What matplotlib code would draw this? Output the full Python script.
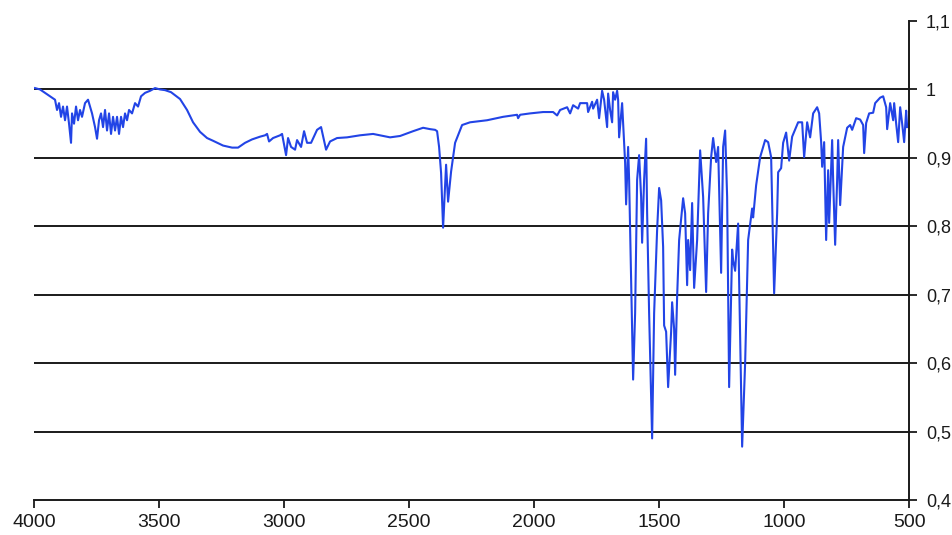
# IR spectrum, transmittance vs wavenumber
import matplotlib
matplotlib.use('Agg')
import matplotlib.pyplot as plt

wavenumber = [
    3996, 3976, 3956, 3936, 3916, 3908, 3900, 3892, 3884, 3876, 3868, 3860,
    3852, 3848, 3840, 3832, 3824, 3816, 3808, 3796, 3784, 3776, 3768, 3756,
    3748, 3740, 3732, 3724, 3716, 3708, 3700, 3692, 3684, 3676, 3668, 3660,
    3652, 3644, 3636, 3628, 3620, 3608, 3596, 3584, 3572, 3556, 3536, 3516,
    3496, 3476, 3452, 3416,
    3388, 3364, 3336, 3308, 3284, 3244, 3208, 3184, 3156, 3128, 3096, 3076,
    3068, 3060, 3044, 3016, 3008, 2992, 2984, 2972, 2956, 2948, 2932, 2920,
    2908, 2892, 2868, 2852, 2832, 2816, 2788, 2748, 2696, 2644, 2604, 2576,
    2536, 2484, 2444, 2416, 2396, 2388, 2380, 2372, 2364, 2352, 2344, 2332,
    2316, 2288, 2256, 2188, 2124, 2068, 2064, 2056, 2016, 1964, 1924, 1908,
    1896, 1868, 1856, 1844, 1824, 1816, 1788, 1784, 1768, 1764, 1748, 1740,
    1728, 1720, 1708, 1704, 1696, 1688, 1684, 1676, 1668, 1664, 1660, 1648,
    1644, 1636, 1632, 1624, 1620, 1612, 1604, 1596, 1588, 1580, 1572, 1568,
    1560, 1552, 1548, 1540, 1528, 1520, 1508, 1500, 1492, 1484, 1480, 1472,
    1464, 1452, 1448, 1440, 1436, 1428, 1420, 1404, 1396, 1388, 1384, 1376,
    1368, 1360, 1348, 1336, 1324, 1312, 1304, 1292, 1284, 1272, 1264, 1252,
    1244, 1236, 1228, 1220, 1208, 1204, 1196, 1184, 1180, 1168, 1156, 1144,
    1128, 1124, 1112, 1096, 1076, 1064, 1052, 1044, 1040, 1028, 1024, 1012,
    1004, 992, 980, 968, 944, 928, 920, 908, 896, 884, 868, 860,
    852, 848, 840, 832, 824, 820, 808, 804, 796, 788, 784, 776,
    764, 748, 736, 728, 712, 696, 684, 680, 672, 660, 644, 636,
    616, 604, 592, 588, 576, 564, 560, 552, 544, 536, 528, 520,
    512, 508,
]

transmittance = [
    1.002, 1.000, 0.995, 0.990, 0.985, 0.970, 0.980, 0.960, 0.975, 0.955, 0.975, 0.950,
    0.922, 0.965, 0.950, 0.975, 0.955, 0.970, 0.960, 0.980, 0.985, 0.975, 0.965, 0.945,
    0.928, 0.955, 0.965, 0.945, 0.970, 0.940, 0.965, 0.935, 0.960, 0.940, 0.960, 0.935,
    0.960, 0.945, 0.965, 0.955, 0.970, 0.965, 0.980, 0.975, 0.990, 0.995, 0.998, 1.002,
    1.000, 0.999, 0.996, 0.986,
    0.970, 0.952, 0.938, 0.929, 0.925, 0.918, 0.915, 0.915, 0.922, 0.927, 0.931, 0.933,
    0.935, 0.924, 0.929, 0.933, 0.935, 0.904, 0.929, 0.916, 0.912, 0.926, 0.916, 0.939,
    0.922, 0.922, 0.941, 0.945, 0.912, 0.924, 0.929, 0.930, 0.933, 0.935, 0.932, 0.930,
    0.932, 0.939, 0.944, 0.942, 0.941, 0.939, 0.916, 0.878, 0.798, 0.890, 0.836, 0.880,
    0.922, 0.948, 0.952, 0.955, 0.960, 0.963, 0.958, 0.963, 0.965, 0.967, 0.967, 0.962,
    0.970, 0.974, 0.965, 0.977, 0.972, 0.980, 0.980, 0.967, 0.982, 0.972, 0.985, 0.958,
    0.998, 0.985, 0.945, 0.994, 0.970, 0.952, 0.996, 0.985, 0.998, 0.985, 0.930, 0.980,
    0.950, 0.893, 0.832, 0.916, 0.868, 0.722, 0.576, 0.673, 0.868, 0.904, 0.843, 0.776,
    0.868, 0.928, 0.820, 0.673, 0.490, 0.673, 0.795, 0.856, 0.838, 0.770, 0.655, 0.646,
    0.565, 0.646, 0.689, 0.650, 0.583, 0.697, 0.780, 0.841, 0.819, 0.714, 0.780, 0.736,
    0.834, 0.710, 0.780, 0.911, 0.843, 0.704, 0.819, 0.901, 0.929, 0.894, 0.916, 0.732,
    0.916, 0.940, 0.843, 0.565, 0.766, 0.750, 0.735, 0.804, 0.720, 0.478, 0.600, 0.780,
    0.826, 0.813, 0.860, 0.901, 0.926, 0.923, 0.901, 0.770, 0.702, 0.819, 0.879, 0.885,
    0.922, 0.937, 0.896, 0.931, 0.952, 0.952, 0.901, 0.952, 0.930, 0.965, 0.974, 0.965,
    0.923, 0.887, 0.923, 0.780, 0.882, 0.805, 0.926, 0.868, 0.773, 0.868, 0.926, 0.831,
    0.916, 0.944, 0.948, 0.941, 0.958, 0.956, 0.948, 0.907, 0.951, 0.965, 0.966, 0.980,
    0.988, 0.990, 0.974, 0.942, 0.980, 0.955, 0.980, 0.950, 0.923, 0.974, 0.950, 0.923,
    0.969, 0.945,
]

x_ticks = [4000, 3500, 3000, 2500, 2000, 1500, 1000, 500]
y_ticks = [0.4, 0.5, 0.6, 0.7, 0.8, 0.9, 1.0, 1.1]
y_tick_labels = ['0,4', '0,5', '0,6', '0,7', '0,8', '0,9', '1', '1,1']
grid_levels = [0.5, 0.6, 0.7, 0.8, 0.9, 1.0]

fig = plt.figure(figsize=(9.53, 5.35), dpi=100)
ax = fig.add_axes([0.0357, 0.0654, 0.9183, 0.8953])

for level in grid_levels:
    ax.axhline(level, color='#1a1a1a', linewidth=1.4, zorder=1)

ax.plot(wavenumber, transmittance, color='#2244e6', linewidth=1.5, zorder=2)

ax.set_xlim(4000, 500)
ax.set_ylim(0.4, 1.1)

ax.spines['top'].set_visible(False)
ax.spines['left'].set_visible(False)
ax.spines['right'].set_color('#1a1a1a')
ax.spines['bottom'].set_color('#1a1a1a')
ax.spines['right'].set_linewidth(1.4)
ax.spines['bottom'].set_linewidth(1.4)

ax.yaxis.tick_right()
ax.set_yticks(y_ticks)
ax.set_yticklabels(y_tick_labels)
ax.set_xticks(x_ticks)
ax.set_xticklabels([str(v) for v in x_ticks])

tick_font = ['Liberation Sans Narrow', 'Liberation Sans', 'DejaVu Sans']
ax.tick_params(axis='y', direction='out', length=6, width=1.3, pad=6,
               labelsize=13, colors='#1a1a1a')
ax.tick_params(axis='x', direction='out', length=6, width=1.3, pad=4,
               labelsize=14, colors='#1a1a1a')
for lab in ax.get_xticklabels() + ax.get_yticklabels():
    lab.set_family(tick_font)

fig.savefig('out.png', dpi=100, facecolor='white')
